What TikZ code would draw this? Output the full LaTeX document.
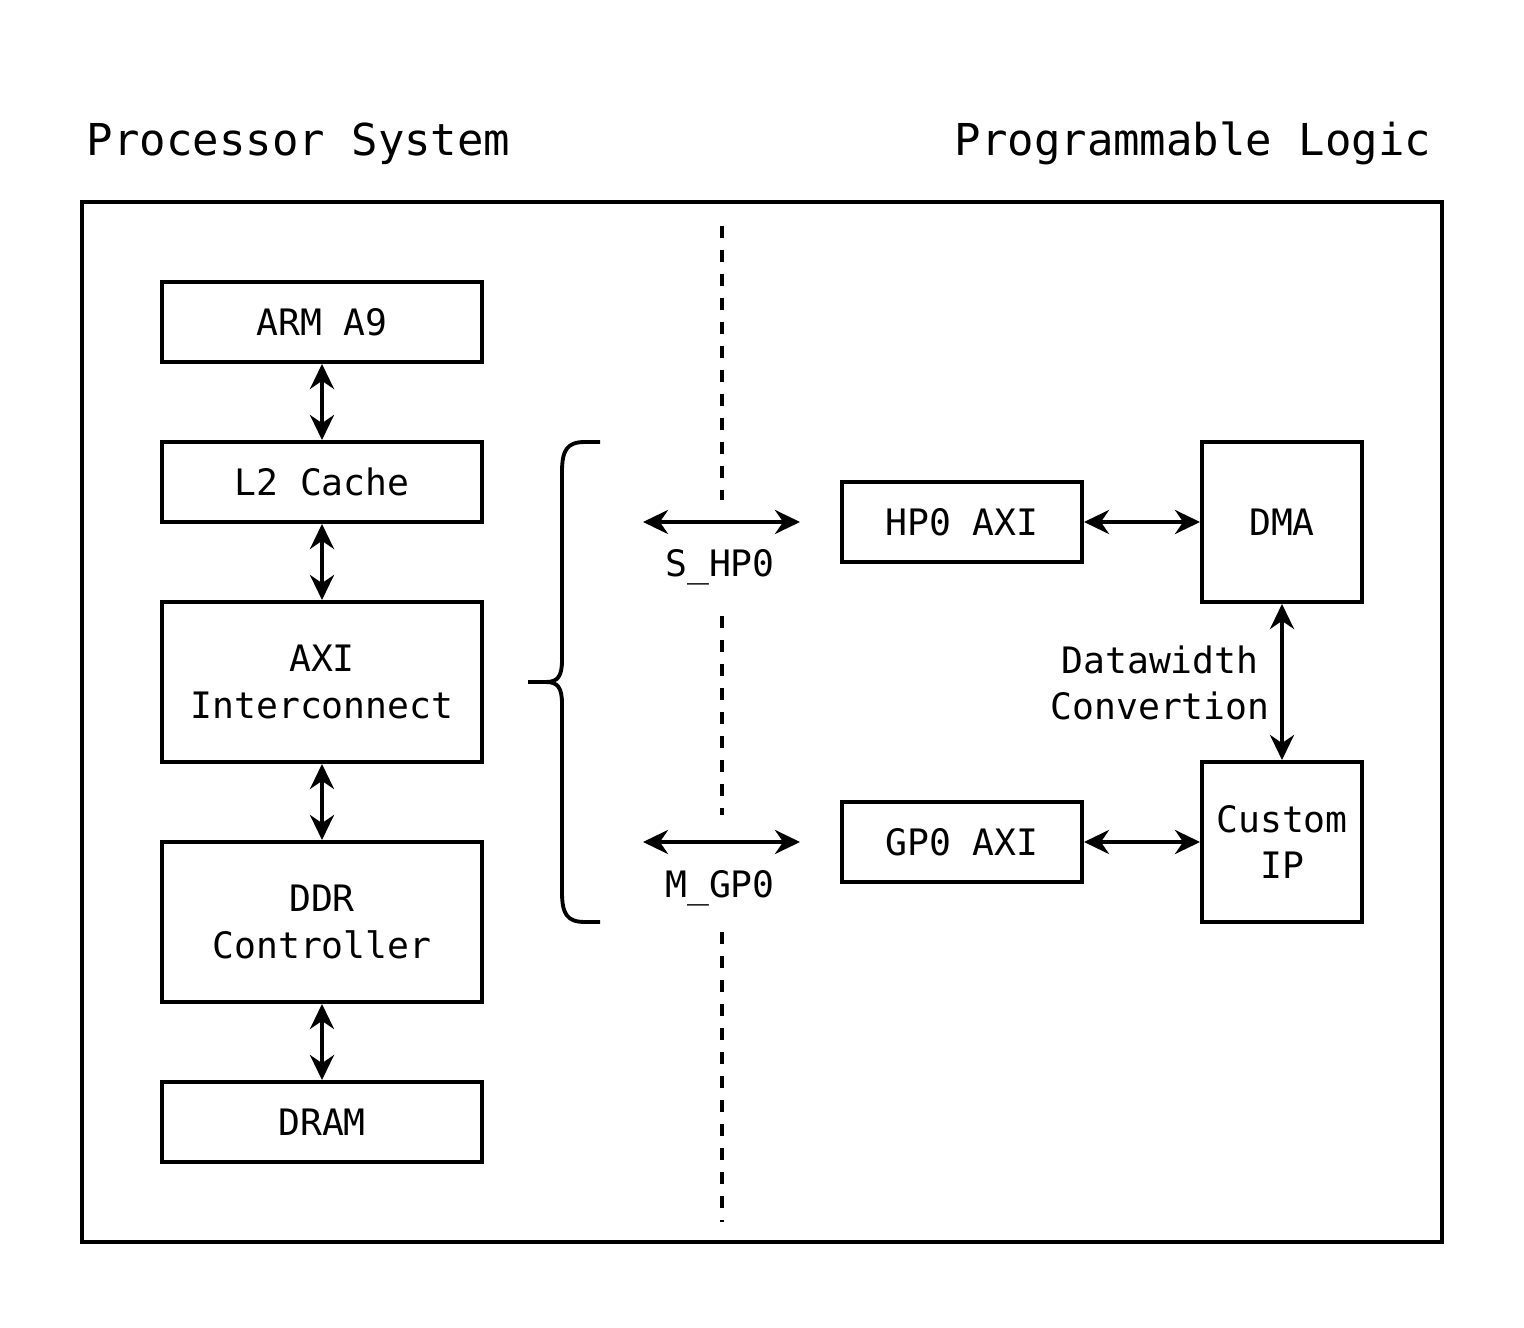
\documentclass[tikz,border=0pt]{standalone}
\usepackage{fontspec}
\setmonofont{DejaVu Sans Mono}
\usetikzlibrary{arrows.meta}

\newcommand\boxfont{\ttfamily\fontsize{10.35}{13.3}\selectfont}
\newcommand\titlefont{\ttfamily\fontsize{12.5}{15}\selectfont}

\begin{document}
\begin{tikzpicture}[x=0.01cm,y=-0.01cm,line width=1.1pt,
  box/.style={draw,minimum width=3.2cm,minimum height=0.8cm,align=center,font=\boxfont},
  link/.style={{Stealth[length=0.25cm,width=0.24cm]}-{Stealth[length=0.25cm,width=0.24cm]}},
  split/.style={dash pattern=on 0.12cm off 0.12cm}]
  \useasboundingbox (0,0) rectangle (1524,1328);

  \node[font=\titlefont,anchor=base west,inner sep=0] (ps) at (85,156) {Processor System};
  \node[font=\titlefont,anchor=base east,inner sep=0] (pl) at (1433,156) {Programmable Logic};

  \draw (82,202) rectangle (1442,1242);

  % processor side
  \node[box] (arm) at (322,322) {ARM A9};
  \node[box] (cache) at (322,482) {L2 Cache};
  \node[box,minimum height=1.6cm] (axi) at (322,682) {AXI\\Interconnect};
  \node[box,minimum height=1.6cm] (ddr) at (322,922) {DDR\\Controller};
  \node[box] (dram) at (322,1122) {DRAM};

  \draw[link] (arm) -- (cache);
  \draw[link] (cache) -- (axi);
  \draw[link] (axi) -- (ddr);
  \draw[link] (ddr) -- (dram);

  \draw (600,442) -- (585,442) .. controls (567,442) and (562,450) .. (562,472) -- (562,660)
    .. controls (562,676) and (558,682) .. (546,682) -- (528,682);
  \draw (546,682) .. controls (558,682) and (562,688) .. (562,704) -- (562,892)
    .. controls (562,914) and (567,922) .. (585,922) -- (600,922);

  % dashed split
  \coordinate (d1) at (722,226);
  \coordinate (d2) at (722,500);
  \coordinate (d3) at (722,616);
  \coordinate (d4) at (722,815);
  \coordinate (d5) at (722,932);
  \coordinate (d6) at (722,1222);
  \draw[split] (d1) -- (d2);
  \draw[split] (d3) -- (d4);
  \draw[split] (d5) -- (d6);

  % ports
  \coordinate (s1) at (643,522);
  \coordinate (s2) at (800,522);
  \coordinate (m1) at (643,842);
  \coordinate (m2) at (800,842);
  \draw[link] (s1) -- (s2);
  \draw[link] (m1) -- (m2);
  \node[font=\boxfont,anchor=base] (shp) at (720,577) {S\_HP0};
  \node[font=\boxfont,anchor=base] (mgp) at (720,897) {M\_GP0};

  % logic side
  \node[box,minimum width=2.4cm] (hp) at (962,522) {HP0 AXI};
  \node[box,minimum width=2.4cm] (gp) at (962,842) {GP0 AXI};
  \node[box,minimum width=1.6cm,minimum height=1.6cm] (dma) at (1282,522) {DMA};
  \node[box,minimum width=1.6cm,minimum height=1.6cm] (ip) at (1282,842) {Custom\\IP};

  \draw[link] (hp) -- (dma);
  \draw[link] (gp) -- (ip);
  \draw[link] (dma) -- (ip);
  \node[font=\boxfont,align=center] (dw) at (1160,683) {Datawidth\\Convertion};

\end{tikzpicture}
\end{document}
